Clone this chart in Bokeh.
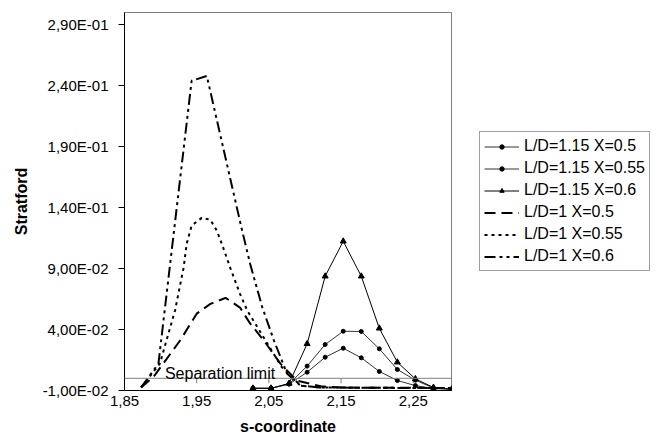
from bokeh.plotting import figure
from bokeh.models import Range1d, FixedTicker, Legend, LegendItem, Span, Label
from bokeh.embed import file_html
from bokeh.resources import INLINE

FONT = "Liberation Sans"

# ---- data ----
s_115 = [2.028, 2.053, 2.078, 2.103, 2.128, 2.153, 2.178, 2.203, 2.228, 2.253, 2.278, 2.303]
ld115_x050 = [-0.0082, -0.0082, -0.0048, 0.0050, 0.0173, 0.0247, 0.0168, 0.0056, -0.0018, -0.0060, -0.0084, -0.0090]
ld115_x055 = [-0.0082, -0.0082, -0.0045, 0.0100, 0.0277, 0.0386, 0.0384, 0.0242, 0.0072, -0.0015, -0.0080, -0.0090]
ld115_x060 = [-0.0082, -0.0082, -0.0042, 0.0283, 0.0837, 0.1124, 0.0837, 0.0410, 0.0132, -0.0005, -0.0075, -0.0090]

s_ld1_x050 = [1.873, 1.890, 1.927, 1.950, 1.969, 1.990, 2.010, 2.024, 2.043, 2.066, 2.089, 2.122, 2.150, 2.200, 2.250, 2.303]
ld1_x050 = [-0.0075, 0.0010, 0.0310, 0.0530, 0.0610, 0.0660, 0.0580, 0.0450, 0.0310, 0.0120, -0.0020, -0.0065, -0.0075, -0.0078, -0.0078, -0.0080]

s_ld1_x055 = [1.873, 1.899, 1.920, 1.932, 1.936, 1.943, 1.957, 1.969, 1.978, 1.985, 1.997, 2.010, 2.020, 2.068, 2.094, 2.120, 2.200, 2.303]
ld1_x055 = [-0.0075, 0.0120, 0.0556, 0.0910, 0.1100, 0.1252, 0.1316, 0.1300, 0.1210, 0.1100, 0.0898, 0.0693, 0.0556, 0.0091, -0.0060, -0.0075, -0.0078, -0.0080]

s_ld1_x060 = [1.873, 1.897, 1.943, 1.964, 2.013, 2.024, 2.041, 2.057, 2.075, 2.094, 2.120, 2.200, 2.303]
ld1_x060 = [-0.0075, 0.0120, 0.2440, 0.2480, 0.1210, 0.0940, 0.0580, 0.0310, 0.0040, -0.0060, -0.0075, -0.0078, -0.0080]

x_ticks = [1.85, 1.95, 2.05, 2.15, 2.25]
x_tick_labels = ["1,85", "1,95", "2,05", "2,15", "2,25"]
y_ticks = [-0.01, 0.04, 0.09, 0.14, 0.19, 0.24, 0.29]
y_tick_labels = ["-1,00E-02", "4,00E-02", "9,00E-02", "1,40E-01", "1,90E-01", "2,40E-01", "2,90E-01"]

separation_value = 0.0

p = figure(frame_width=327, frame_height=378,
           x_range=Range1d(1.85, 2.303), y_range=Range1d(-0.01, 0.30),
           output_backend="svg", toolbar_location=None,
           min_border_left=124, min_border_top=12, min_border_bottom=48, min_border_right=205)
p.grid.visible = False
p.outline_line_color = "#808080"
p.outline_line_width = 1
p.background_fill_color = "white"
p.border_fill_color = "white"

# x axis (bottom)
xa = p.xaxis[0]
xa.ticker = FixedTicker(ticks=x_ticks)
xa.major_label_overrides = {t: l for t, l in zip(x_ticks, x_tick_labels)}
xa.major_tick_out = 0
xa.major_tick_in = 0
xa.minor_tick_out = 0
xa.minor_tick_in = 0
xa.axis_line_color = "black"
xa.axis_line_width = 1
xa.major_label_standoff = 5
xa.major_label_text_font = FONT
xa.major_label_text_font_size = "15px"
xa.major_label_text_color = "black"
xa.axis_label = "s-coordinate"
xa.axis_label_text_font = FONT
xa.axis_label_text_font_size = "16px"
xa.axis_label_text_font_style = "bold"
xa.axis_label_text_color = "black"
xa.axis_label_standoff = 9

# y axis
ya = p.yaxis[0]
ya.ticker = FixedTicker(ticks=y_ticks)
ya.major_label_overrides = {t: l for t, l in zip(y_ticks, y_tick_labels)}
ya.major_tick_out = 6
ya.major_tick_in = 0
ya.minor_tick_out = 0
ya.minor_tick_in = 0
ya.axis_line_color = "black"
ya.major_tick_line_color = "black"
ya.major_label_standoff = 10
ya.major_label_text_font = FONT
ya.major_label_text_font_size = "15px"
ya.major_label_text_color = "black"
ya.axis_label = "Stratford"
ya.axis_label_text_font = FONT
ya.axis_label_text_font_size = "16px"
ya.axis_label_text_font_style = "bold"
ya.axis_label_text_color = "black"
ya.axis_label_standoff = 10

# horizontal axis crossing at zero (separation limit) with its tick marks
p.add_layout(Span(location=separation_value, dimension="width", line_color="#808080", line_width=1))
p.ray(x=x_ticks, y=[separation_value] * len(x_ticks), length=5, length_units="screen",
      angle=-90, angle_units="deg", line_color="#808080", line_width=1)

p.add_layout(Label(x=1.906, y=0.0039, text="Separation limit", text_font=FONT,
                   text_font_size="16px", text_color="black", text_baseline="alphabetic"))

# L/D = 1.15 series
l1 = p.line(s_115, ld115_x050, line_color="#333333", line_width=1)
m1 = p.scatter(s_115, ld115_x050, marker="circle", size=4, color="black")
l2 = p.line(s_115, ld115_x055, line_color="#333333", line_width=1)
m2 = p.scatter(s_115, ld115_x055, marker="circle", size=4, color="black")
l3 = p.line(s_115, ld115_x060, line_color="black", line_width=1)
m3 = p.scatter(s_115, ld115_x060, marker="triangle", size=6, color="black")

# L/D = 1 series
l4 = p.line(s_ld1_x050, ld1_x050, line_color="black", line_width=2, line_dash="11 6")
l5 = p.line(s_ld1_x055, ld1_x055, line_color="black", line_width=2, line_dash="3 4")
l6 = p.line(s_ld1_x060, ld1_x060, line_color="black", line_width=2, line_dash="11 4 3 4 3 4")

legend = Legend(items=[
    LegendItem(label="L/D=1.15 X=0.5", renderers=[l1, m1]),
    LegendItem(label="L/D=1.15 X=0.55", renderers=[l2, m2]),
    LegendItem(label="L/D=1.15 X=0.6", renderers=[l3, m3]),
    LegendItem(label="L/D=1 X=0.5", renderers=[l4]),
    LegendItem(label="L/D=1 X=0.55", renderers=[l5]),
    LegendItem(label="L/D=1 X=0.6", renderers=[l6]),
], location=(28, 119))
legend.label_text_font = FONT
legend.label_text_font_size = "16px"
legend.label_text_color = "black"
legend.glyph_width = 35
legend.glyph_height = 11
legend.label_height = 20
legend.label_standoff = 5
legend.spacing = 2
legend.padding = 4
legend.margin = 0
legend.border_line_color = "#404040"
legend.border_line_width = 1
legend.background_fill_color = "white"
legend.background_fill_alpha = 1
p.add_layout(legend, "right")

open("out.html", "w").write(file_html(p, INLINE))
